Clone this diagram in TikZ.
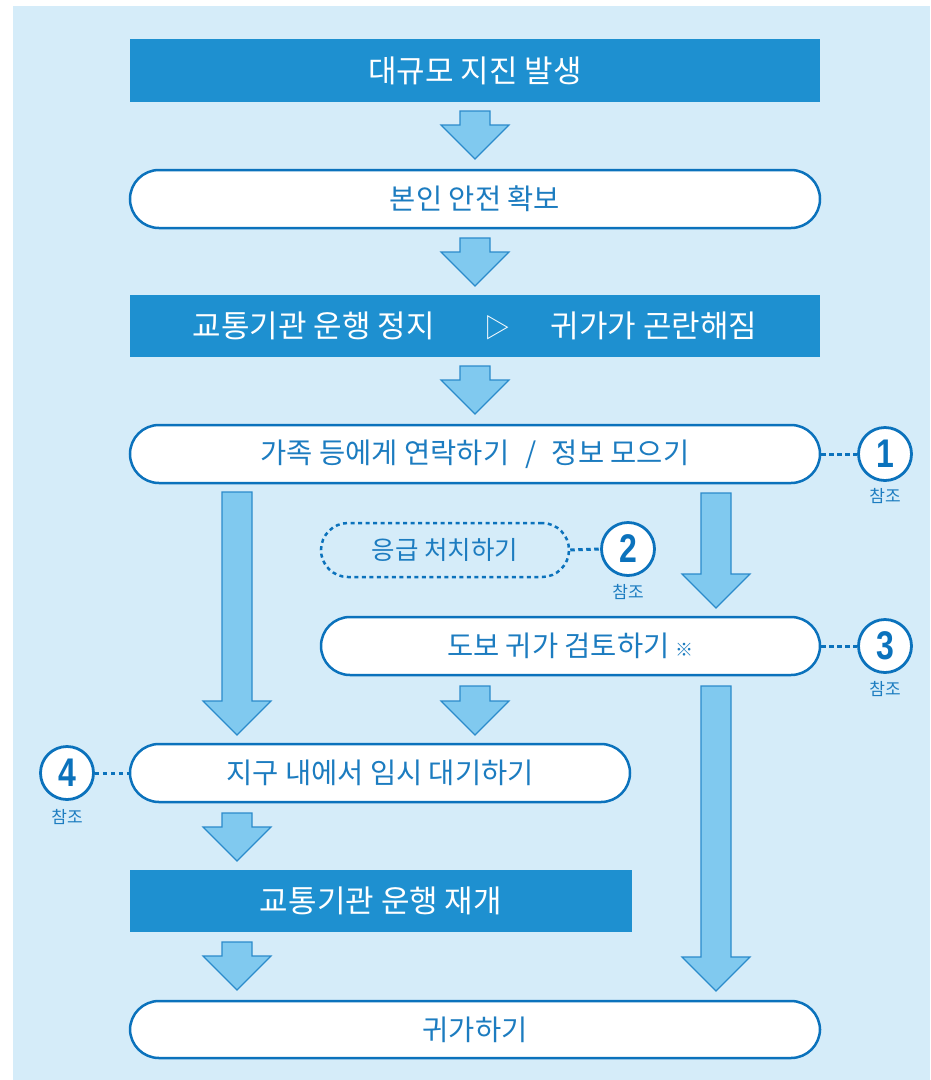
\documentclass[tikz,border=0pt]{standalone}
\usepackage{fontspec}
\setmainfont{Noto Sans CJK KR}
\newfontfamily\numfont{Liberation Sans}
\usetikzlibrary{calc}
\definecolor{bgblue}{HTML}{D5ECF9}
\definecolor{darkbox}{HTML}{1E90D0}
\definecolor{lineblue}{HTML}{0B72BC}
\definecolor{arrowfill}{HTML}{80C9EF}
\definecolor{arrowline}{HTML}{2B8BCB}
\definecolor{textblue}{HTML}{1C7CC0}
\tikzset{
  headbox/.style={rectangle, fill=darkbox, text=white, inner sep=0pt,
    font=\fontsize{31}{34}\selectfont},
  roundbox/.style={rectangle, rounded corners=29pt, draw=lineblue, line width=2.5pt,
    fill=white, text=textblue, inner sep=0pt, font=\fontsize{28.5}{32}\selectfont},
  dashbox/.style={rectangle, rounded corners=27pt, draw=lineblue, line width=2.5pt,
    dash pattern=on 4pt off 3.5pt, text=textblue, inner sep=0pt,
    font=\fontsize{25.5}{29}\selectfont},
  refcircle/.style={circle, draw=lineblue, line width=2.8pt, fill=white,
    minimum size=53pt, inner sep=0pt, text=lineblue,
    font=\numfont\bfseries\fontsize{40}{42}\selectfont},
  reflabel/.style={text=textblue, inner sep=0pt, font=\fontsize{17}{19}\selectfont},
  dotlink/.style={draw=lineblue, line width=3pt, dash pattern=on 4.5pt off 3.5pt},
  barrow/.style={fill=arrowfill, draw=arrowline, line width=1.1pt, line join=miter}
}
\newcommand\blockarrow[2]{%
  \draw[barrow] let \p1=(#1), \p2=(#2) in
    (\x1-15pt,\y1) -- (\x1+15pt,\y1) -- (\x1+15pt,\y2+34pt) -- (\x1+34pt,\y2+34pt)
    -- (\x1,\y2) -- (\x1-34pt,\y2+34pt) -- (\x1-15pt,\y2+34pt) -- cycle;}
\begin{document}
\begin{tikzpicture}[x=1pt,y=-1pt]
\useasboundingbox (0,0) rectangle (930,1080);
\fill[bgblue] (13,6) rectangle (930,1080);

% boxes
\node[headbox, minimum width=690pt, minimum height=63pt] (b1) at (475,70.5) {대규모 지진 발생};
\node[roundbox, minimum width=690pt, minimum height=58pt] (b2) at (475,199) {본인 안전 확보};
\node[headbox, minimum width=690pt, minimum height=62pt] (b3) at (475,326)
  {교통기관 운행 정지\hspace{1.6em}{\fontsize{26}{28}\selectfont ▷}\hspace{1.3em}귀가가 곤란해짐};
\node[roundbox, minimum width=690pt, minimum height=58pt] (b4) at (475,454)
  {가족 등에게 연락하기\hspace{0.55em}/\hspace{0.55em}정보 모으기};
\node[dashbox, minimum width=248pt, minimum height=54pt] (e1) at (445,550) {응급 처치하기};
\node[roundbox, minimum width=499pt, minimum height=58pt] (b5) at (570.5,646)
  {도보 귀가 검토하기 {\fontsize{18}{20}\selectfont ※}};
\node[roundbox, minimum width=500pt, minimum height=58pt] (b6) at (380,773) {지구 내에서 임시 대기하기};
\node[headbox, minimum width=502pt, minimum height=62pt] (b7) at (381,901) {교통기관 운행 재개};
\node[roundbox, minimum width=690pt, minimum height=57pt] (b8) at (475,1029.5) {귀가하기};

% reference circles
\node[refcircle] (c1) at (885,454) {\scalebox{0.8}[1]{1}};
\node[refcircle] (c2) at (628,549) {\scalebox{0.8}[1]{2}};
\node[refcircle] (c3) at (885,646) {\scalebox{0.8}[1]{3}};
\node[refcircle] (c4) at (67,773) {\scalebox{0.8}[1]{4}};
\node[reflabel] (r1) at (885,496) {참조};
\node[reflabel] (r2) at (628,592) {참조};
\node[reflabel] (r3) at (885,689) {참조};
\node[reflabel] (r4) at (67,817) {참조};

\draw[dotlink] (b4.east) -- (c1.west);
\draw[dotlink] (e1.east) -- (c2.west);
\draw[dotlink] (b5.east) -- (c3.west);
\draw[dotlink] (c4.east) -- (b6.west);

% block arrows
\coordinate (a1t) at (475,111);  \coordinate (a1b) at (475,159);
\coordinate (a2t) at (475,238);  \coordinate (a2b) at (475,286);
\coordinate (a3t) at (475,366);  \coordinate (a3b) at (475,414);
\coordinate (a4t) at (237,492);  \coordinate (a4b) at (237,735);
\coordinate (a5t) at (716,493);  \coordinate (a5b) at (716,608);
\coordinate (a6t) at (475,686);  \coordinate (a6b) at (475,735);
\coordinate (a7t) at (716,686);  \coordinate (a7b) at (716,991);
\coordinate (a8t) at (237,813);  \coordinate (a8b) at (237,861);
\coordinate (a9t) at (237,942);  \coordinate (a9b) at (237,990);
\blockarrow{a1t}{a1b}
\blockarrow{a2t}{a2b}
\blockarrow{a3t}{a3b}
\blockarrow{a4t}{a4b}
\blockarrow{a5t}{a5b}
\blockarrow{a6t}{a6b}
\blockarrow{a7t}{a7b}
\blockarrow{a8t}{a8b}
\blockarrow{a9t}{a9b}
\end{tikzpicture}
\end{document}
